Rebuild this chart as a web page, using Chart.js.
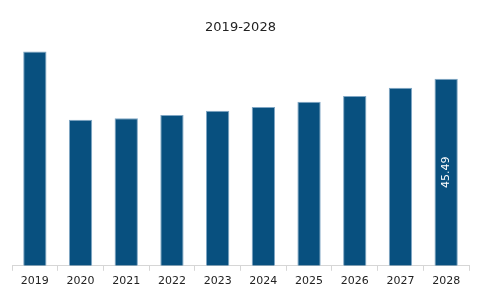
<!DOCTYPE html>
<html>
<head>
<meta charset="utf-8">
<script src="https://cdn.jsdelivr.net/npm/chart.js@4"></script>
<style>
  html, body { margin: 0; padding: 0; background: #fff; }
  #wrap { width: 497px; height: 299px; }
</style>
</head>
<body>
<div id="wrap"><canvas id="myChart"></canvas></div>
<script>
const years = ['2019', '2020', '2021', '2022', '2023', '2024', '2025', '2026', '2027', '2028'];
const values = [52.1, 35.5, 35.9, 36.7, 37.7, 38.6, 39.9, 41.3, 43.3, 45.49];
const labelled = [false, false, false, false, false, false, false, false, false, true];

// rotated value label inside the last bar
const barLabel = {
    id: 'barLabel',
    afterDatasetsDraw(chart) {
        const ctx = chart.ctx;
        const meta = chart.getDatasetMeta(0);
        meta.data.forEach((bar, i) => {
            if (!labelled[i]) return;
            const midY = (bar.y + bar.base) / 2;
            ctx.save();
            ctx.translate(bar.x, midY);
            ctx.rotate(-Math.PI / 2);
            ctx.fillStyle = '#ffffff';
            ctx.font = '11px "DejaVu Sans"';
            ctx.textAlign = 'center';
            ctx.textBaseline = 'middle';
            ctx.fillText(values[i].toFixed(2), 0, 0);
            ctx.restore();
        });
    }
};

const ctx = document.getElementById('myChart').getContext('2d');

new Chart(ctx, {
    type: 'bar',
    data: {
        labels: years,
        datasets: [{
            data: values,
            backgroundColor: '#08507f',
            borderColor: '#7fa6c4',
            borderWidth: { left: 1, right: 1, top: 1, bottom: 0 },
            categoryPercentage: 1,
            barPercentage: 0.51
        }]
    },
    options: {
        responsive: true,
        maintainAspectRatio: false,
        animation: false,
        layout: { padding: { left: 12, right: 28, top: 0, bottom: 7 } },
        plugins: {
            legend: { display: false },
            tooltip: { enabled: false },
            title: {
                display: true,
                text: '2019-2028',
                color: '#222',
                font: { family: '"DejaVu Sans"', size: 13, weight: 'normal' },
                padding: { top: 20, bottom: 9 }
            }
        },
        scales: {
            x: {
                grid: {
                    drawOnChartArea: false,
                    drawTicks: true,
                    tickLength: 5,
                    color: '#d6d6d6'
                },
                border: { color: '#d6d6d6' },
                ticks: {
                    color: '#222',
                    font: { family: '"DejaVu Sans"', size: 11 },
                    padding: 4,
                    maxRotation: 0
                }
            },
            y: {
                display: false,
                min: 0,
                max: 53.8
            }
        }
    },
    plugins: [barLabel]
});
</script>
</body>
</html>
